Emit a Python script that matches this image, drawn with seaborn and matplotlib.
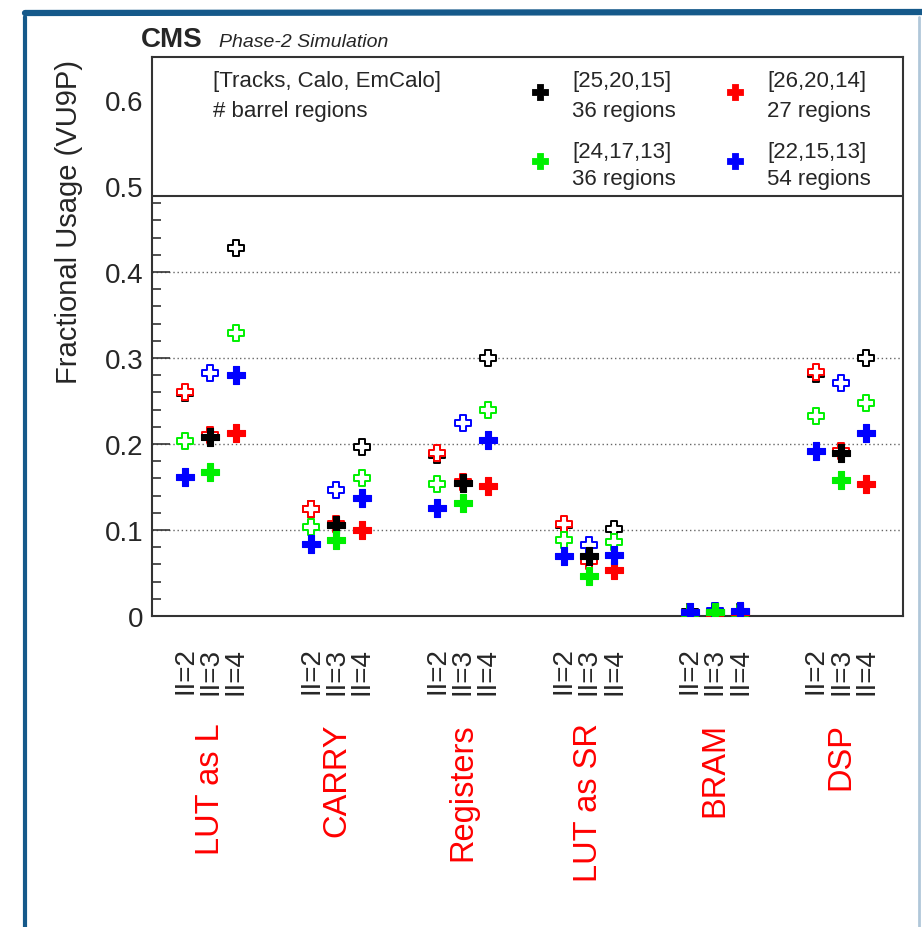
import numpy as np
import pandas as pd
import matplotlib
matplotlib.use("Agg")
import matplotlib.pyplot as plt
import seaborn as sns
from matplotlib.lines import Line2D
from matplotlib.ticker import FixedLocator, FuncFormatter
import matplotlib.transforms as mtransforms

# ---------------- data ----------------
resources = ["LUT as L", "CARRY", "Registers", "LUT as SR", "BRAM", "DSP"]
ii_labels = ["II=2", "II=3", "II=4"]
configs = ["[25,20,15]", "[26,20,14]", "[24,17,13]", "[22,15,13]"]
regions = ["36 regions", "27 regions", "36 regions", "54 regions"]
colors = ["black", "#ff0000", "#00f000", "#0000ff"]

# values per resource, for II=2, II=3, II=4
usage_25_20_15 = [0.259, 0.208, 0.428,  0.124, 0.106, 0.196,  0.187, 0.155, 0.300,
                  0.106, 0.070, 0.101,  0.005, 0.005, 0.005,  0.281, 0.190, 0.300]
usage_26_20_14 = [0.260, 0.211, 0.213,  0.125, 0.107, 0.100,  0.189, 0.156, 0.151,
                  0.107, 0.064, 0.053,  0.004, 0.002, 0.005,  0.284, 0.192, 0.153]
usage_24_17_13 = [0.204, 0.168, 0.329,  0.103, 0.088, 0.161,  0.153, 0.131, 0.240,
                  0.088, 0.047, 0.086,  0.004, 0.005, 0.004,  0.232, 0.158, 0.248]
usage_22_15_13 = [0.162, 0.282, 0.280,  0.084, 0.147, 0.137,  0.126, 0.225, 0.205,
                  0.070, 0.082, 0.071,  0.005, 0.006, 0.006,  0.192, 0.271, 0.213]
usages = [usage_25_20_15, usage_26_20_14, usage_24_17_13, usage_22_15_13]

# filled marker (True) or open marker (False) for II=2, II=3, II=4
filled_25_20_15 = [False, True, False]
filled_26_20_14 = [False, False, True]
filled_24_17_13 = [False, True, False]
filled_22_15_13 = [True, False, True]
filleds = [filled_25_20_15, filled_26_20_14, filled_24_17_13, filled_22_15_13]

rows = []
for c, cfg in enumerate(configs):
    for g, res in enumerate(resources):
        for i, ii in enumerate(ii_labels):
            rows.append(dict(config=cfg, resource=res, ii=ii, pos=5 * g + i,
                             usage=usages[c][3 * g + i], filled=filleds[c][i]))
df = pd.DataFrame(rows)

# ---------------- figure ----------------
sns.set_style("white")
plt.rcParams["font.family"] = ["Liberation Sans", "DejaVu Sans"]

W, H = 922, 928
fig = plt.figure(figsize=(W / 100, H / 100), dpi=100)
fig.patch.set_facecolor("white")
ax = fig.add_axes([152 / W, 1 - 617 / H, 751 / W, 559 / H])

for f in (False, True):
    for c, cfg in enumerate(configs):
        sub = df[(df["config"] == cfg) & (df["filled"] == f)]
        sns.scatterplot(data=sub, x="pos", y="usage", ax=ax, marker="P",
                        s=150 if f else 135, color=colors[c],
                        facecolor=colors[c] if f else "white",
                        edgecolor=colors[c], linewidth=0.8 if f else 1.4,
                        legend=False, zorder=4 if f else 3)

ax.set_xlim(-1.31, 28.45)
ax.set_ylim(0, 0.65)
ax.set_xlabel("")
ax.set_ylabel("")

# x ticks
xt = [5 * g + i for g in range(len(resources)) for i in range(len(ii_labels))]
ax.set_xticks(xt)
ax.set_xticklabels(ii_labels * len(resources), rotation=90, va="top", ha="center")
ax.tick_params(axis="x", length=0, labelsize=20, pad=22)

# y ticks
ax.yaxis.set_major_locator(FixedLocator([0, 0.1, 0.2, 0.3, 0.4, 0.5, 0.6]))
ax.yaxis.set_major_formatter(FuncFormatter(lambda v, p: "0" if abs(v) < 1e-9 else f"{v:.1f}"))
minor = [round(v, 2) for v in np.arange(0.02, 0.49, 0.02) if abs(v * 10 - round(v * 10)) > 1e-6]
ax.yaxis.set_minor_locator(FixedLocator(minor))
ax.tick_params(axis="y", which="major", direction="in", length=13, width=1.2,
               labelsize=20, pad=6, color="#333333", left=True, right=False)
ax.tick_params(axis="y", which="minor", direction="in", length=6.5, width=1.2,
               color="#333333", left=True, right=False)
ax.yaxis.grid(True, which="major", linestyle=(0, (1, 2)), color="#666666", lw=1)
for t, v in zip(ax.yaxis.get_major_ticks(), [0, 0.1, 0.2, 0.3, 0.4, 0.5, 0.6]):
    if v == 0 or v >= 0.5:
        t.gridline.set_visible(False)
    if v >= 0.5:
        t.tick1line.set_visible(False)

for s in ax.spines.values():
    s.set_visible(True)
    s.set_color("#333333")
    s.set_linewidth(1.5)

# legend box separator
ax.axhline(0.488, color="#333333", lw=1.5, zorder=5)

# category labels
trans = mtransforms.blended_transform_factory(ax.transData, ax.transAxes)
for g, res in enumerate(resources):
    ax.text(5 * g + 1, -0.19, res, rotation=90, ha="center", va="top",
            color="red", fontsize=23.5, transform=trans)

# legend (manual layout in axes coords)
def axx(px):
    return (px - 152) / 751

def axy(py):
    return (617 - py) / 559

ax.text(axx(213), axy(87), "[Tracks, Calo, EmCalo]", transform=ax.transAxes,
        fontsize=16, va="baseline", ha="left")
ax.text(axx(213), axy(117), "# barrel regions", transform=ax.transAxes,
        fontsize=16, va="baseline", ha="left")
leg_pos = [(540, 92.5, 87, 117), (735, 92.5, 87, 117),
           (540, 162, 158, 185), (735, 162, 158, 185)]
for c, (mx, my, b1, b2) in enumerate(leg_pos):
    ax.scatter([axx(mx)], [axy(my)], transform=ax.transAxes, marker="P", s=120,
               color=colors[c], edgecolor=colors[c], linewidth=0.6, zorder=6,
               clip_on=False)
    ax.text(axx(mx + 32), axy(b1), configs[c], transform=ax.transAxes,
            fontsize=16, va="baseline", ha="left")
    ax.text(axx(mx + 32), axy(b2), regions[c], transform=ax.transAxes,
            fontsize=16, va="baseline", ha="left")

# y label
fig.text(69 / W, 1 - 222 / H, "Fractional Usage (VU9P)", rotation=90,
         ha="center", va="center", fontsize=21)

# CMS label
fig.text(141 / W, 1 - 47 / H, "CMS", fontweight="bold", fontsize=20,
         va="baseline", ha="left")
fig.text(219 / W, 1 - 47 / H, "Phase-2 Simulation", style="italic", fontsize=14,
         va="baseline", ha="left")

# decorative frame strokes
fig.add_artist(Line2D([25 / W, 1.0], [1 - 14 / H, 1 - 13 / H], transform=fig.transFigure,
                      color="#15598a", lw=4.5))
fig.add_artist(Line2D([25 / W, 25 / W], [0.0, 1 - 18 / H], transform=fig.transFigure,
                      color="#15598a", lw=3))
fig.add_artist(Line2D([919 / W, 919 / W], [0.0, 1 - 18 / H], transform=fig.transFigure,
                      color="#9db9d0", lw=2, alpha=0.8))

fig.savefig("out.png", dpi=100)
